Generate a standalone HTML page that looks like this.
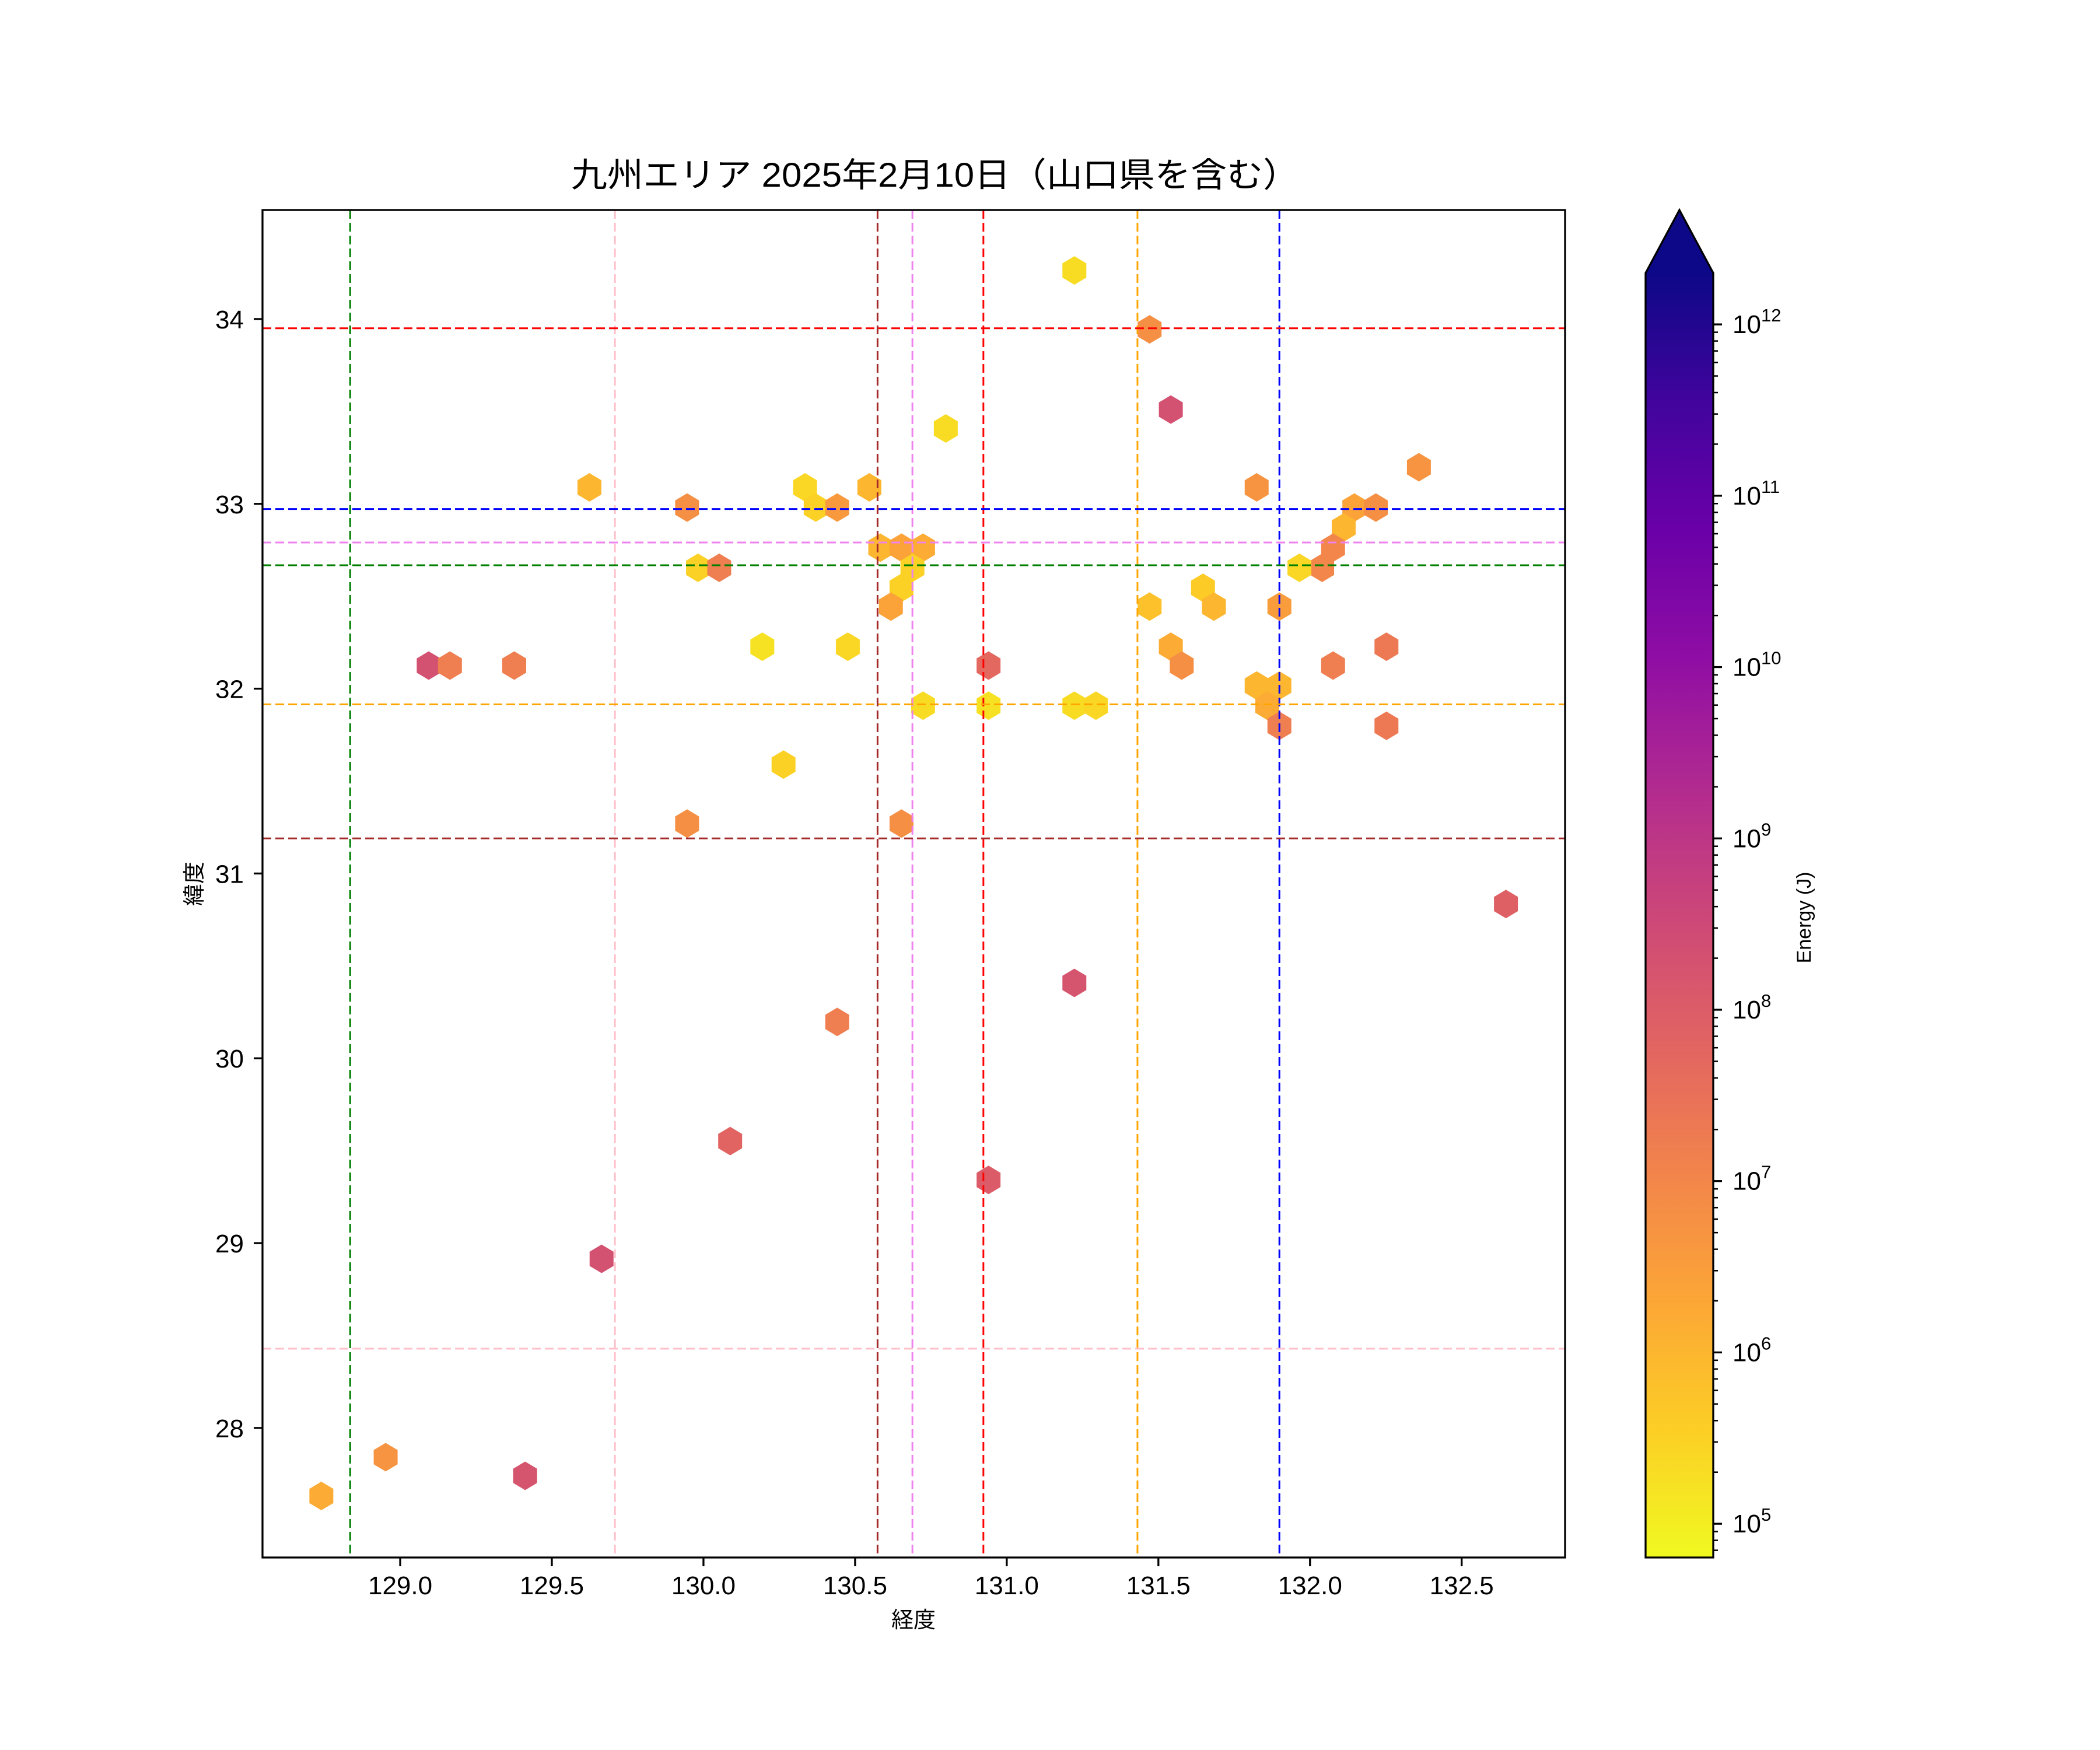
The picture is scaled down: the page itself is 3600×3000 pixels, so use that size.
<!DOCTYPE html>
<html><head><meta charset="utf-8">
<style>
html,body{margin:0;padding:0;background:#fff;}
svg{display:block;font-family:"Liberation Sans","Noto Sans CJK JP",sans-serif;}
</style></head>
<body>
<svg id="chart" width="3600" height="3000" viewBox="0 0 3600 3000" xmlns="http://www.w3.org/2000/svg">
<rect width="3600" height="3000" fill="#fff"/>
<text x="979" y="320" font-size="58" textLength="1248" lengthAdjust="spacingAndGlyphs">九州エリア 2025年2月10日（山口県を含む）</text>
<g id="plot"></g>
<text x="1566" y="2790" font-size="38" text-anchor="middle">経度</text>
<text transform="translate(346,1515) rotate(-90)" font-size="38" text-anchor="middle">緯度</text>
<text transform="translate(3104,1573) rotate(-90)" font-size="34" text-anchor="middle">Energy (J)</text>
</svg>
<script>
const lons = [131.223,131.471,131.541,130.799,129.624,129.946,130.335,130.370,130.441,130.547,131.824,132.359,132.146,132.217,132.111,132.076,132.040,131.965,129.982,130.052,130.583,130.653,130.724,130.689,130.653,130.618,131.647,131.683,131.471,131.899,130.194,130.476,131.541,131.577,132.252,129.094,129.164,129.376,130.940,132.076,131.824,131.899,131.859,130.724,130.940,131.223,131.294,131.899,132.252,130.264,129.946,130.653,132.646,131.223,130.441,130.088,130.940,129.664,128.952,129.412,128.740];
const lats = [34.263,33.944,33.510,33.408,33.089,32.980,33.089,32.980,32.980,33.089,33.089,33.198,32.980,32.980,32.872,32.763,32.654,32.654,32.654,32.654,32.763,32.763,32.763,32.654,32.546,32.444,32.546,32.444,32.444,32.444,32.227,32.227,32.227,32.125,32.227,32.125,32.125,32.125,32.125,32.125,32.017,32.017,31.908,31.908,31.908,31.908,31.908,31.799,31.799,31.589,31.270,31.270,30.835,30.408,30.197,29.552,29.342,28.915,27.842,27.741,27.632];
const logEnergy = [5.3,6.8,8.3,5.3,6.0,6.8,5.4,5.5,6.6,6.0,6.7,6.7,6.4,6.8,6.0,7.0,7.0,5.4,5.5,7.2,6.0,6.4,6.2,5.5,5.5,6.4,5.6,6.0,5.8,6.5,5.2,5.4,6.2,6.8,7.3,8.3,7.2,7.2,7.7,7.2,6.0,6.0,6.2,5.3,5.2,5.3,5.4,7.2,7.3,5.5,6.8,6.8,7.9,8.2,7.2,7.8,8.0,8.3,6.7,8.2,6.2];
const vLineLons = [128.835,129.708,130.574,130.689,130.923,131.431,131.899];
const vLineColors = ['green','pink','brown','violet','red','orange','blue'];
const hLineLats = [33.950,32.972,32.791,32.668,31.915,31.190,28.429];
const hLineColors = ['red','blue','violet','green','orange','brown','pink'];
const xTicks = [129.0,129.5,130.0,130.5,131.0,131.5,132.0,132.5];
const yTicks = [28,29,30,31,32,33,34];
const cbDecades = [5,6,7,8,9,10,11,12];

const NS='http://www.w3.org/2000/svg';
const L=450,R=2683,T=360,B=2670;
const X0=128.546,X1=132.841,Y0=27.299,Y1=34.590;
const xs=v=>L+(v-X0)/(X1-X0)*(R-L);
const ys=v=>B-(v-Y0)/(Y1-Y0)*(B-T);
const CB_L=2821,CB_R=2937,CB_T=468,CB_B=2670,CB_TIP=360;
const VMIN=4.803,VMAX=12.30;
const cys=v=>CB_B-(v-VMIN)/(VMAX-VMIN)*(CB_B-CB_T);
const plasma=['#0d0887','#41049d','#6a00a8','#8f0da4','#b12a90','#cc4778','#e16462','#f2844b','#fca636','#fcce25','#f0f921'];
function hex2rgb(h){return [1,3,5].map(i=>parseInt(h.substr(i,2),16));}
function cmap(t){t=Math.max(0,Math.min(1,t));const p=(1-t)*10;const i=Math.min(9,Math.floor(p));const f=p-i;
 const a=hex2rgb(plasma[i]),b=hex2rgb(plasma[i+1]);return 'rgb('+a.map((v,k)=>Math.round(v+(b[k]-v)*f)).join(',')+')';}
const g=document.getElementById('plot');
function mk(tag,attrs,parent){const e=document.createElementNS(NS,tag);for(const k in attrs)e.setAttribute(k,attrs[k]);(parent||g).appendChild(e);return e;}

lons.forEach((lon,i)=>{
 const cx=xs(lon),cy=ys(lats[i]);
 const pts=[[0,-24.5],[20.5,-12.25],[20.5,12.25],[0,24.5],[-20.5,12.25],[-20.5,-12.25]].map(p=>(cx+p[0])+','+(cy+p[1])).join(' ');
 const e=mk('polygon',{points:pts,fill:cmap((logEnergy[i]-VMIN)/(VMAX-VMIN))});
 
 
});
vLineLons.forEach((v,i)=>{
 const e=mk('line',{x1:xs(v),x2:xs(v),y1:T,y2:B,stroke:vLineColors[i],'stroke-width':3,'stroke-dasharray':'15,7'});
 
 
});
hLineLats.forEach((v,i)=>{
 const e=mk('line',{x1:L,x2:R,y1:ys(v),y2:ys(v),stroke:hLineColors[i],'stroke-width':3,'stroke-dasharray':'15,7'});
 
 
});
const fr=mk('rect',{x:L,y:T,width:R-L,height:B-T,fill:'none',stroke:'#000','stroke-width':3.3});


xTicks.forEach(v=>{
 const x=xs(v);
 const t=mk('line',{x1:x,x2:x,y1:B,y2:B+15,stroke:'#000','stroke-width':3.3});
 
 
 const l=mk('text',{x:x,y:2733,'font-size':44,'text-anchor':'middle'});
 l.textContent=v.toFixed(1);
 
 
});
yTicks.forEach(v=>{
 const y=ys(v);
 const t=mk('line',{x1:L-15,x2:L,y1:y,y2:y,stroke:'#000','stroke-width':3.3});
 
 
 const l=mk('text',{x:418,y:y+16,'font-size':44,'text-anchor':'end'});
 l.textContent=String(v);
 
 
});
const defs=mk('defs',{});
const grad=mk('linearGradient',{id:'cbg',x1:0,y1:1,x2:0,y2:0},defs);
for(let k=0;k<=20;k++){mk('stop',{offset:k/20,'stop-color':cmap(k/20)},grad);}
const cb=mk('rect',{x:CB_L,y:CB_T,width:CB_R-CB_L,height:CB_B-CB_T,fill:'url(#cbg)'});


const ar=mk('polygon',{points:`${CB_L},${CB_T+1} ${(CB_L+CB_R)/2},${CB_TIP} ${CB_R},${CB_T+1}`,fill:'#0d0887'});


const cbo=mk('polygon',{points:`${CB_L},${CB_B} ${CB_L},${CB_T} ${(CB_L+CB_R)/2},${CB_TIP} ${CB_R},${CB_T} ${CB_R},${CB_B}`,fill:'none',stroke:'#000','stroke-width':3.3});


cbDecades.forEach(d=>{
 const y=cys(d);
 const t=mk('line',{x1:CB_R,x2:CB_R+15,y1:y,y2:y,stroke:'#000','stroke-width':3.3});
 
 
 const l=mk('text',{x:2970,y:y+15,'font-size':44});
 l.textContent='10';
 const s=mk('tspan',{dy:-20,'font-size':31},l);
 s.textContent=String(d);
 
 
 for(let m=2;m<=9;m++){
  const lv=d+Math.log10(m);
  if(lv>VMAX)continue;
  const mt=mk('line',{x1:CB_R,x2:CB_R+8,y1:cys(lv),y2:cys(lv),stroke:'#000','stroke-width':2.5});
  
  
 }
 if(d===5){for(let m=7;m<=9;m++){const lv=4+Math.log10(m);if(lv<VMIN)continue;
  const mt=mk('line',{x1:CB_R,x2:CB_R+8,y1:cys(lv),y2:cys(lv),stroke:'#000','stroke-width':2.5});
  
  }}
});
</script>
</body></html>
